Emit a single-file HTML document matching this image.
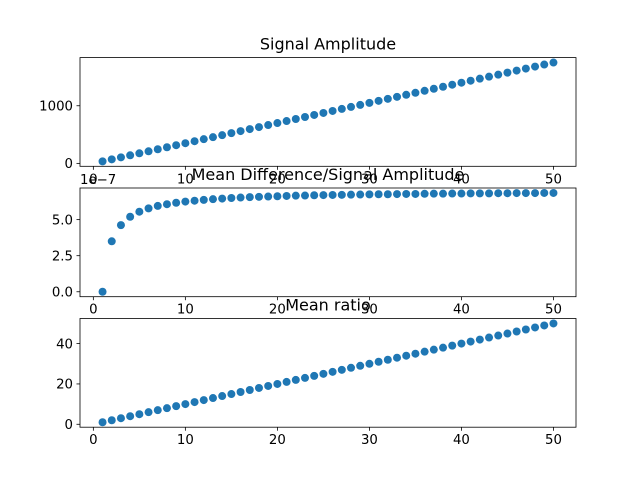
<!DOCTYPE html>
<html><head><meta charset="utf-8"><style>
body{margin:0;background:#fff}
svg text{font-family:"DejaVu Sans","Liberation Sans",sans-serif}
</style></head><body>
<svg id="fig" width="640" height="480" xmlns="http://www.w3.org/2000/svg"></svg>
<script>
const xs = Array.from({length:50},(_,i)=>i+1);
const amp = [35,70,105,140,175,210,245,280,315,350,385,420,455,490,525,560,595,630,665,700,735,770,805,840,875,910,945,980,1015,1050,1085,1120,1155,1190,1225,1260,1295,1330,1365,1400,1435,1470,1505,1540,1575,1610,1645,1680,1715,1750];
const diff = [0,3.5,4.62,5.2,5.55,5.78,5.95,6.07,6.17,6.25,6.31,6.37,6.42,6.46,6.5,6.53,6.56,6.58,6.6,6.62,6.64,6.66,6.67,6.69,6.7,6.71,6.72,6.73,6.74,6.75,6.76,6.76,6.77,6.78,6.78,6.79,6.8,6.8,6.81,6.81,6.82,6.82,6.82,6.83,6.83,6.84,6.84,6.84,6.85,6.85];
const ratio = [1,2,3,4,5,6,7,8,9,10,11,12,13,14,15,16,17,18,19,20,21,22,23,24,25,26,27,28,29,30,31,32,33,34,35,36,37,38,39,40,41,42,43,44,45,46,47,48,49,50];
const xTicks = [0,10,20,30,40,50];
const t1 = [0,1000], t1l=["0","1000"];
const t2 = [0,2.5,5.0], t2l=["0.0","2.5","5.0"];
const t3 = [0,20,40], t3l=["0","20","40"];
const titles = ["Signal Amplitude","Mean Difference/Signal Amplitude","Mean ratio"];
const NS="http://www.w3.org/2000/svg", svg=document.getElementById('fig');
function mk(t,a,p){const e=document.createElementNS(NS,t);for(const k in a)e.setAttribute(k,a[k]);(p||svg).appendChild(e);return e;}
const L=80,R=576,H=108.7,tops=[57.6,188.0,318.5];
const xmin=-1.45,xmax=52.45;
const xS=v=>L+(v-xmin)/(xmax-xmin)*(R-L);
function panel(i,ys,ticks,labels,name){
  const top=tops[i],bot=top+H;
  const mn=Math.min(...ys),mx=Math.max(...ys),m=(mx-mn)*0.05,lo=mn-m,hi=mx+m;
  const yS=v=>bot-(v-lo)/(hi-lo)*H;
  const g=mk('g',{});
  
  
  xs.forEach((x,j)=>{const c=mk('circle',{cx:xS(x),cy:yS(ys[j]),r:4,fill:'#1f77b4'},g);
    
    });
  const fr=mk('rect',{x:L,y:top,width:R-L,height:H,fill:'none',stroke:'#000','stroke-width':0.8},g);
  
  xTicks.forEach(t=>{mk('line',{x1:xS(t),x2:xS(t),y1:bot,y2:bot+3.5,stroke:'#000','stroke-width':0.8},g);
    const tx=mk('text',{x:xS(t),y:bot+17,'font-size':13.3,'text-anchor':'middle'},g);tx.textContent=t;
    });
  ticks.forEach((t,k)=>{mk('line',{x1:L-3.5,x2:L,y1:yS(t),y2:yS(t),stroke:'#000','stroke-width':0.8},g);
    const tx=mk('text',{x:L-7,y:yS(t)+4.8,'font-size':13.3,'text-anchor':'end'},g);tx.textContent=labels[k];
    });
  const ti=mk('text',{x:(L+R)/2,y:top-8,'font-size':16,'text-anchor':'middle'},g);ti.textContent=titles[i];
  
}
panel(0,amp,t1,t1l,'signal-amplitude-panel');
panel(1,diff,t2,t2l,'mean-difference-panel');
panel(2,ratio,t3,t3l,'mean-ratio-panel');
const off=mk('text',{x:80,y:184,'font-size':13.3});off.textContent='1e\u22127';


</script>
</body></html>
